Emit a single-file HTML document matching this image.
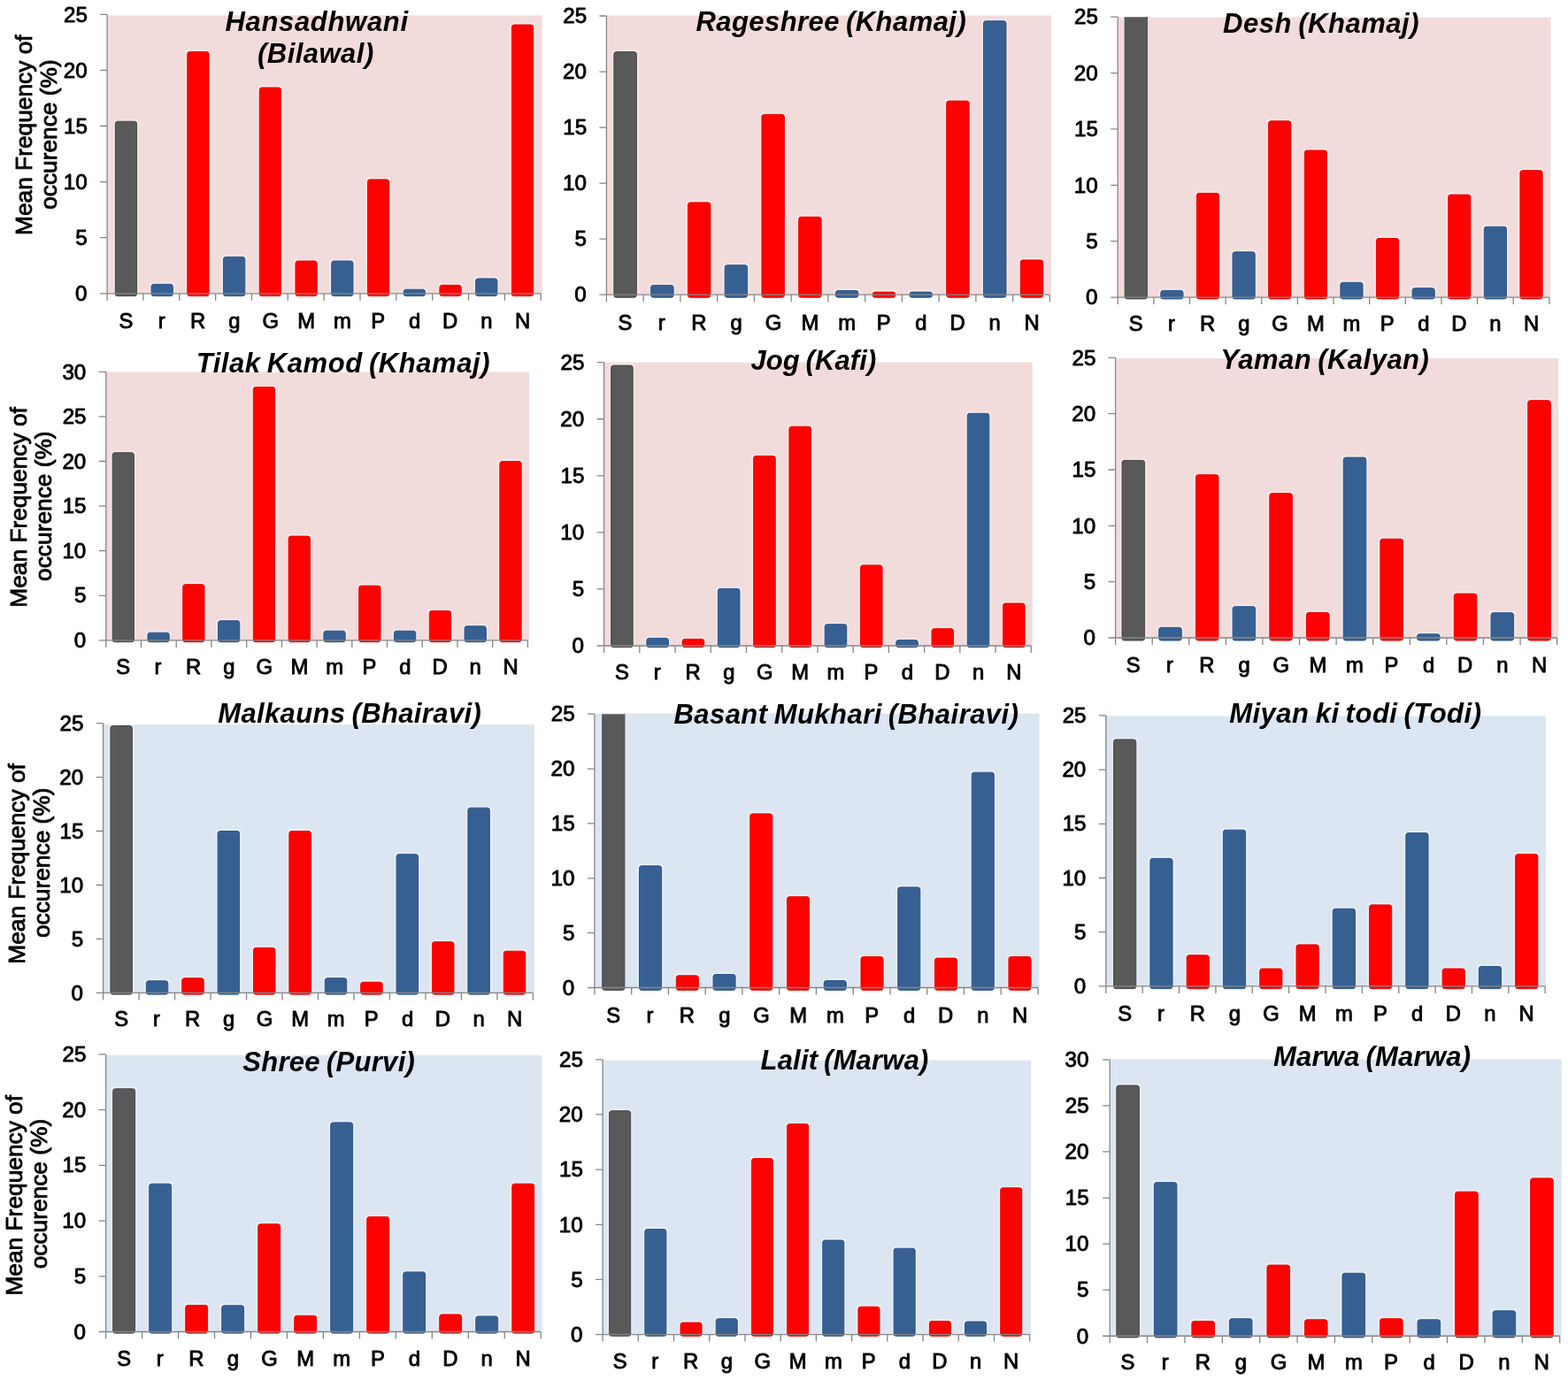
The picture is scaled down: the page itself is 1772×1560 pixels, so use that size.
<!DOCTYPE html>
<html><head><meta charset="utf-8"><style>
html,body{margin:0;padding:0;background:#fff;overflow:hidden;}
svg{display:block;}
text{font-family:"Liberation Sans",Arial,sans-serif;fill:#000;}
.t{font-size:24.2px;stroke:#000;stroke-width:0.9px;stroke-linejoin:round;}
.x{font-size:23.8px;stroke:#000;stroke-width:0.9px;stroke-linejoin:round;}
.ti{font-size:31.0px;font-weight:bold;font-style:italic;}
.yt{font-size:26.3px;stroke:#000;stroke-width:0.9px;stroke-linejoin:round;}
</style></head><body>
<svg width="1772" height="1560" viewBox="0 0 1772 1560">
<rect x="0" y="0" width="1772" height="1560" fill="#fff"/>
<defs>
<clipPath id="cp0"><rect x="101.1" y="16.3" width="530.1" height="345.5"/></clipPath>
<clipPath id="cp1"><rect x="665.4" y="18.0" width="541.0000000000001" height="345.2"/></clipPath>
<clipPath id="cp2"><rect x="1243.2" y="19.2" width="527.6499999999999" height="346.90000000000003"/></clipPath>
<clipPath id="cp3"><rect x="99.8" y="420.3" width="516.5999999999999" height="333.59999999999997"/></clipPath>
<clipPath id="cp4"><rect x="662.6" y="409.7" width="522.6999999999999" height="350.3"/></clipPath>
<clipPath id="cp5"><rect x="1240.6" y="404.3" width="539.0500000000002" height="346.7"/></clipPath>
<clipPath id="cp6"><rect x="96.6" y="817.6" width="525.8" height="334.80000000000007"/></clipPath>
<clipPath id="cp7"><rect x="651.9" y="807.2" width="541.1" height="339.29999999999995"/></clipPath>
<clipPath id="cp8"><rect x="1229.8" y="808.9" width="536.4000000000001" height="336.0000000000001"/></clipPath>
<clipPath id="cp9"><rect x="99.6" y="1191.9" width="531.6" height="343.5999999999999"/></clipPath>
<clipPath id="cp10"><rect x="661.1" y="1197.8" width="522.6" height="340.79999999999995"/></clipPath>
<clipPath id="cp11"><rect x="1234.2" y="1197.8" width="548.5" height="342.45000000000005"/></clipPath>
</defs>
<g><rect x="121.10" y="17.40" width="491.60" height="314.40" fill="#F2DCDB"/><rect x="128.30" y="135.20" width="28.30" height="199.90" rx="4" ry="4" fill="#fff" fill-opacity="0.45"/><rect x="130.30" y="137.20" width="24.30" height="197.40" rx="2.6" ry="2.6" fill="#595959" stroke="#474747" stroke-width="1"/><rect x="169.03" y="319.30" width="28.30" height="15.80" rx="4" ry="4" fill="#fff" fill-opacity="0.45"/><rect x="171.03" y="321.30" width="24.30" height="13.30" rx="2.6" ry="2.6" fill="#376092" stroke="#2A5590" stroke-width="1"/><rect x="209.76" y="56.40" width="28.30" height="278.70" rx="4" ry="4" fill="#fff" fill-opacity="0.45"/><rect x="211.76" y="58.40" width="24.30" height="276.20" rx="2.6" ry="2.6" fill="#FF0000" stroke="#F00000" stroke-width="1"/><rect x="250.50" y="288.40" width="28.30" height="46.70" rx="4" ry="4" fill="#fff" fill-opacity="0.45"/><rect x="252.50" y="290.40" width="24.30" height="44.20" rx="2.6" ry="2.6" fill="#376092" stroke="#2A5590" stroke-width="1"/><rect x="291.23" y="97.00" width="28.30" height="238.10" rx="4" ry="4" fill="#fff" fill-opacity="0.45"/><rect x="293.23" y="99.00" width="24.30" height="235.60" rx="2.6" ry="2.6" fill="#FF0000" stroke="#F00000" stroke-width="1"/><rect x="331.96" y="293.00" width="28.30" height="42.10" rx="4" ry="4" fill="#fff" fill-opacity="0.45"/><rect x="333.96" y="295.00" width="24.30" height="39.60" rx="2.6" ry="2.6" fill="#FF0000" stroke="#F00000" stroke-width="1"/><rect x="372.69" y="293.00" width="28.30" height="42.10" rx="4" ry="4" fill="#fff" fill-opacity="0.45"/><rect x="374.69" y="295.00" width="24.30" height="39.60" rx="2.6" ry="2.6" fill="#376092" stroke="#2A5590" stroke-width="1"/><rect x="413.42" y="200.90" width="28.30" height="134.20" rx="4" ry="4" fill="#fff" fill-opacity="0.45"/><rect x="415.42" y="202.90" width="24.30" height="131.70" rx="2.6" ry="2.6" fill="#FF0000" stroke="#F00000" stroke-width="1"/><rect x="454.15" y="325.20" width="28.30" height="9.90" rx="4" ry="4" fill="#fff" fill-opacity="0.45"/><rect x="456.15" y="327.20" width="24.30" height="7.40" rx="2.6" ry="2.6" fill="#376092" stroke="#2A5590" stroke-width="1"/><rect x="494.89" y="320.30" width="28.30" height="14.80" rx="4" ry="4" fill="#fff" fill-opacity="0.45"/><rect x="496.89" y="322.30" width="24.30" height="12.30" rx="2.6" ry="2.6" fill="#FF0000" stroke="#F00000" stroke-width="1"/><rect x="535.62" y="312.90" width="28.30" height="22.20" rx="4" ry="4" fill="#fff" fill-opacity="0.45"/><rect x="537.62" y="314.90" width="24.30" height="19.70" rx="2.6" ry="2.6" fill="#376092" stroke="#2A5590" stroke-width="1"/><rect x="576.35" y="26.00" width="28.30" height="309.10" rx="4" ry="4" fill="#fff" fill-opacity="0.45"/><rect x="578.35" y="28.00" width="24.30" height="306.60" rx="2.6" ry="2.6" fill="#FF0000" stroke="#F00000" stroke-width="1"/><path d="M121.10,16.30V339.80M113.10,331.80H611.20M113.10,331.80H121.10M113.10,268.70H121.10M113.10,205.60H121.10M113.10,142.50H121.10M113.10,79.40H121.10M113.10,16.30H121.10M121.10,331.80V339.80M161.94,331.80V339.80M202.78,331.80V339.80M243.62,331.80V339.80M284.47,331.80V339.80M325.31,331.80V339.80M366.15,331.80V339.80M406.99,331.80V339.80M447.83,331.80V339.80M488.68,331.80V339.80M529.52,331.80V339.80M570.36,331.80V339.80M611.20,331.80V339.80" stroke="#868686" stroke-width="1.3" fill="none"/><text x="84.95" y="340.05" class="t">0</text><text x="85.20" y="276.82" class="t">5</text><text x="71.70" y="213.85" class="t">10</text><text x="71.95" y="150.62" class="t">15</text><text x="71.70" y="87.65" class="t">20</text><text x="71.95" y="24.55" class="t">25</text><text x="134.45" y="371.10" class="x">S</text><text x="178.68" y="371.10" class="x">r</text><text x="214.91" y="371.10" class="x">R</text><text x="258.27" y="371.10" class="x">g</text><text x="296.38" y="371.10" class="x">G</text><text x="336.23" y="371.10" class="x">M</text><text x="376.97" y="371.10" class="x">m</text><text x="419.32" y="371.10" class="x">P</text><text x="461.93" y="371.10" class="x">d</text><text x="500.04" y="371.10" class="x">D</text><text x="543.14" y="371.10" class="x">n</text><text x="581.88" y="371.10" class="x">N</text><text x="254.40" y="34.90" class="ti" letter-spacing="0.685">Hansadhwani</text><text x="291.10" y="70.70" class="ti" letter-spacing="0.456">(Bilawal)</text><text transform="translate(35.55,152.70) rotate(-90)" text-anchor="middle" class="yt">Mean Frequency of</text><text transform="translate(63.75,152.10) rotate(-90)" text-anchor="middle" class="yt">occurence (%)</text></g>
<g><rect x="685.40" y="17.50" width="502.50" height="315.70" fill="#F2DCDB"/><rect x="691.85" y="56.60" width="29.50" height="280.10" rx="4" ry="4" fill="#fff" fill-opacity="0.45"/><rect x="693.85" y="58.60" width="25.50" height="277.60" rx="2.6" ry="2.6" fill="#595959" stroke="#474747" stroke-width="1"/><rect x="733.61" y="320.40" width="29.50" height="16.30" rx="4" ry="4" fill="#fff" fill-opacity="0.45"/><rect x="735.61" y="322.40" width="25.50" height="13.80" rx="2.6" ry="2.6" fill="#376092" stroke="#2A5590" stroke-width="1"/><rect x="775.38" y="226.90" width="29.50" height="109.80" rx="4" ry="4" fill="#fff" fill-opacity="0.45"/><rect x="777.38" y="228.90" width="25.50" height="107.30" rx="2.6" ry="2.6" fill="#FF0000" stroke="#F00000" stroke-width="1"/><rect x="817.14" y="297.70" width="29.50" height="39.00" rx="4" ry="4" fill="#fff" fill-opacity="0.45"/><rect x="819.14" y="299.70" width="25.50" height="36.50" rx="2.6" ry="2.6" fill="#376092" stroke="#2A5590" stroke-width="1"/><rect x="858.90" y="127.40" width="29.50" height="209.30" rx="4" ry="4" fill="#fff" fill-opacity="0.45"/><rect x="860.90" y="129.40" width="25.50" height="206.80" rx="2.6" ry="2.6" fill="#FF0000" stroke="#F00000" stroke-width="1"/><rect x="900.67" y="243.20" width="29.50" height="93.50" rx="4" ry="4" fill="#fff" fill-opacity="0.45"/><rect x="902.67" y="245.20" width="25.50" height="91.00" rx="2.6" ry="2.6" fill="#FF0000" stroke="#F00000" stroke-width="1"/><rect x="942.43" y="326.50" width="29.50" height="10.20" rx="4" ry="4" fill="#fff" fill-opacity="0.45"/><rect x="944.43" y="328.50" width="25.50" height="7.70" rx="2.6" ry="2.6" fill="#376092" stroke="#2A5590" stroke-width="1"/><rect x="984.20" y="328.10" width="29.50" height="8.60" rx="4" ry="4" fill="#fff" fill-opacity="0.45"/><rect x="986.20" y="330.10" width="25.50" height="6.10" rx="2.6" ry="2.6" fill="#FF0000" stroke="#F00000" stroke-width="1"/><rect x="1025.96" y="328.10" width="29.50" height="8.60" rx="4" ry="4" fill="#fff" fill-opacity="0.45"/><rect x="1027.96" y="330.10" width="25.50" height="6.10" rx="2.6" ry="2.6" fill="#376092" stroke="#2A5590" stroke-width="1"/><rect x="1067.72" y="112.10" width="29.50" height="224.60" rx="4" ry="4" fill="#fff" fill-opacity="0.45"/><rect x="1069.72" y="114.10" width="25.50" height="222.10" rx="2.6" ry="2.6" fill="#FF0000" stroke="#F00000" stroke-width="1"/><rect x="1109.49" y="21.70" width="29.50" height="315.00" rx="4" ry="4" fill="#fff" fill-opacity="0.45"/><rect x="1111.49" y="23.70" width="25.50" height="312.50" rx="2.6" ry="2.6" fill="#376092" stroke="#2A5590" stroke-width="1"/><rect x="1151.25" y="291.90" width="29.50" height="44.80" rx="4" ry="4" fill="#fff" fill-opacity="0.45"/><rect x="1153.25" y="293.90" width="25.50" height="42.30" rx="2.6" ry="2.6" fill="#FF0000" stroke="#F00000" stroke-width="1"/><path d="M685.40,18.00V341.20M677.40,333.20H1186.40M677.40,333.20H685.40M677.40,270.16H685.40M677.40,207.12H685.40M677.40,144.08H685.40M677.40,81.04H685.40M677.40,18.00H685.40M685.40,333.20V341.20M727.15,333.20V341.20M768.90,333.20V341.20M810.65,333.20V341.20M852.40,333.20V341.20M894.15,333.20V341.20M935.90,333.20V341.20M977.65,333.20V341.20M1019.40,333.20V341.20M1061.15,333.20V341.20M1102.90,333.20V341.20M1144.65,333.20V341.20M1186.40,333.20V341.20" stroke="#868686" stroke-width="1.3" fill="none"/><text x="649.25" y="341.45" class="t">0</text><text x="649.50" y="278.28" class="t">5</text><text x="636.00" y="215.37" class="t">10</text><text x="636.25" y="152.21" class="t">15</text><text x="636.00" y="89.29" class="t">20</text><text x="636.25" y="26.25" class="t">25</text><text x="698.60" y="372.50" class="x">S</text><text x="743.86" y="372.50" class="x">r</text><text x="781.13" y="372.50" class="x">R</text><text x="825.52" y="372.50" class="x">g</text><text x="864.65" y="372.50" class="x">G</text><text x="905.54" y="372.50" class="x">M</text><text x="947.31" y="372.50" class="x">m</text><text x="990.70" y="372.50" class="x">P</text><text x="1034.33" y="372.50" class="x">d</text><text x="1073.47" y="372.50" class="x">D</text><text x="1117.61" y="372.50" class="x">n</text><text x="1157.38" y="372.50" class="x">N</text><text x="786.40" y="34.90" class="ti" letter-spacing="0.447" word-spacing="-2.0">Rageshree (Khamaj)</text></g>
<g><rect x="1263.20" y="19.60" width="489.15" height="316.50" fill="#F2DCDB"/><rect x="1271.20" y="13.70" width="25.20" height="324.20" rx="2.6" ry="2.6" fill="#595959" stroke="#474747" stroke-width="1" clip-path="url(#cp2)"/><rect x="1309.81" y="326.40" width="29.20" height="12.00" rx="4" ry="4" fill="#fff" fill-opacity="0.45"/><rect x="1311.81" y="328.40" width="25.20" height="9.50" rx="2.6" ry="2.6" fill="#376092" stroke="#2A5590" stroke-width="1"/><rect x="1350.42" y="216.40" width="29.20" height="122.00" rx="4" ry="4" fill="#fff" fill-opacity="0.45"/><rect x="1352.42" y="218.40" width="25.20" height="119.50" rx="2.6" ry="2.6" fill="#FF0000" stroke="#F00000" stroke-width="1"/><rect x="1391.03" y="282.80" width="29.20" height="55.60" rx="4" ry="4" fill="#fff" fill-opacity="0.45"/><rect x="1393.03" y="284.80" width="25.20" height="53.10" rx="2.6" ry="2.6" fill="#376092" stroke="#2A5590" stroke-width="1"/><rect x="1431.64" y="134.80" width="29.20" height="203.60" rx="4" ry="4" fill="#fff" fill-opacity="0.45"/><rect x="1433.64" y="136.80" width="25.20" height="201.10" rx="2.6" ry="2.6" fill="#FF0000" stroke="#F00000" stroke-width="1"/><rect x="1472.25" y="168.00" width="29.20" height="170.40" rx="4" ry="4" fill="#fff" fill-opacity="0.45"/><rect x="1474.25" y="170.00" width="25.20" height="167.90" rx="2.6" ry="2.6" fill="#FF0000" stroke="#F00000" stroke-width="1"/><rect x="1512.85" y="317.30" width="29.20" height="21.10" rx="4" ry="4" fill="#fff" fill-opacity="0.45"/><rect x="1514.85" y="319.30" width="25.20" height="18.60" rx="2.6" ry="2.6" fill="#376092" stroke="#2A5590" stroke-width="1"/><rect x="1553.46" y="267.50" width="29.20" height="70.90" rx="4" ry="4" fill="#fff" fill-opacity="0.45"/><rect x="1555.46" y="269.50" width="25.20" height="68.40" rx="2.6" ry="2.6" fill="#FF0000" stroke="#F00000" stroke-width="1"/><rect x="1594.07" y="323.70" width="29.20" height="14.70" rx="4" ry="4" fill="#fff" fill-opacity="0.45"/><rect x="1596.07" y="325.70" width="25.20" height="12.20" rx="2.6" ry="2.6" fill="#376092" stroke="#2A5590" stroke-width="1"/><rect x="1634.68" y="218.10" width="29.20" height="120.30" rx="4" ry="4" fill="#fff" fill-opacity="0.45"/><rect x="1636.68" y="220.10" width="25.20" height="117.80" rx="2.6" ry="2.6" fill="#FF0000" stroke="#F00000" stroke-width="1"/><rect x="1675.29" y="254.30" width="29.20" height="84.10" rx="4" ry="4" fill="#fff" fill-opacity="0.45"/><rect x="1677.29" y="256.30" width="25.20" height="81.60" rx="2.6" ry="2.6" fill="#376092" stroke="#2A5590" stroke-width="1"/><rect x="1715.90" y="190.70" width="29.20" height="147.70" rx="4" ry="4" fill="#fff" fill-opacity="0.45"/><rect x="1717.90" y="192.70" width="25.20" height="145.20" rx="2.6" ry="2.6" fill="#FF0000" stroke="#F00000" stroke-width="1"/><path d="M1263.20,19.20V344.10M1255.20,336.10H1750.85M1255.20,336.10H1263.20M1255.20,272.72H1263.20M1255.20,209.34H1263.20M1255.20,145.96H1263.20M1255.20,82.58H1263.20M1255.20,19.20H1263.20M1263.20,336.10V344.10M1303.84,336.10V344.10M1344.47,336.10V344.10M1385.11,336.10V344.10M1425.75,336.10V344.10M1466.39,336.10V344.10M1507.03,336.10V344.10M1547.66,336.10V344.10M1588.30,336.10V344.10M1628.94,336.10V344.10M1669.57,336.10V344.10M1710.21,336.10V344.10M1750.85,336.10V344.10" stroke="#868686" stroke-width="1.3" fill="none"/><text x="1227.05" y="344.35" class="t">0</text><text x="1227.30" y="280.85" class="t">5</text><text x="1213.80" y="217.59" class="t">10</text><text x="1214.05" y="154.09" class="t">15</text><text x="1213.80" y="90.83" class="t">20</text><text x="1214.05" y="27.45" class="t">25</text><text x="1275.80" y="374.10" class="x">S</text><text x="1319.91" y="374.10" class="x">r</text><text x="1356.02" y="374.10" class="x">R</text><text x="1399.25" y="374.10" class="x">g</text><text x="1437.24" y="374.10" class="x">G</text><text x="1476.97" y="374.10" class="x">M</text><text x="1517.58" y="374.10" class="x">m</text><text x="1559.81" y="374.10" class="x">P</text><text x="1602.30" y="374.10" class="x">d</text><text x="1640.28" y="374.10" class="x">D</text><text x="1683.27" y="374.10" class="x">n</text><text x="1721.88" y="374.10" class="x">N</text><text x="1382.10" y="36.60" class="ti" letter-spacing="0.529" word-spacing="-2.0">Desh (Khamaj)</text></g>
<g><rect x="119.80" y="420.50" width="478.10" height="303.40" fill="#F2DCDB"/><rect x="125.15" y="509.70" width="28.30" height="216.50" rx="4" ry="4" fill="#fff" fill-opacity="0.45"/><rect x="127.15" y="511.70" width="24.30" height="214.00" rx="2.6" ry="2.6" fill="#595959" stroke="#474747" stroke-width="1"/><rect x="164.94" y="713.20" width="28.30" height="13.00" rx="4" ry="4" fill="#fff" fill-opacity="0.45"/><rect x="166.94" y="715.20" width="24.30" height="10.50" rx="2.6" ry="2.6" fill="#376092" stroke="#2A5590" stroke-width="1"/><rect x="204.73" y="658.70" width="28.30" height="67.50" rx="4" ry="4" fill="#fff" fill-opacity="0.45"/><rect x="206.73" y="660.70" width="24.30" height="65.00" rx="2.6" ry="2.6" fill="#FF0000" stroke="#F00000" stroke-width="1"/><rect x="244.52" y="699.70" width="28.30" height="26.50" rx="4" ry="4" fill="#fff" fill-opacity="0.45"/><rect x="246.52" y="701.70" width="24.30" height="24.00" rx="2.6" ry="2.6" fill="#376092" stroke="#2A5590" stroke-width="1"/><rect x="284.31" y="435.50" width="28.30" height="290.70" rx="4" ry="4" fill="#fff" fill-opacity="0.45"/><rect x="286.31" y="437.50" width="24.30" height="288.20" rx="2.6" ry="2.6" fill="#FF0000" stroke="#F00000" stroke-width="1"/><rect x="324.10" y="604.10" width="28.30" height="122.10" rx="4" ry="4" fill="#fff" fill-opacity="0.45"/><rect x="326.10" y="606.10" width="24.30" height="119.60" rx="2.6" ry="2.6" fill="#FF0000" stroke="#F00000" stroke-width="1"/><rect x="363.90" y="711.20" width="28.30" height="15.00" rx="4" ry="4" fill="#fff" fill-opacity="0.45"/><rect x="365.90" y="713.20" width="24.30" height="12.50" rx="2.6" ry="2.6" fill="#376092" stroke="#2A5590" stroke-width="1"/><rect x="403.69" y="660.10" width="28.30" height="66.10" rx="4" ry="4" fill="#fff" fill-opacity="0.45"/><rect x="405.69" y="662.10" width="24.30" height="63.60" rx="2.6" ry="2.6" fill="#FF0000" stroke="#F00000" stroke-width="1"/><rect x="443.48" y="711.20" width="28.30" height="15.00" rx="4" ry="4" fill="#fff" fill-opacity="0.45"/><rect x="445.48" y="713.20" width="24.30" height="12.50" rx="2.6" ry="2.6" fill="#376092" stroke="#2A5590" stroke-width="1"/><rect x="483.27" y="688.50" width="28.30" height="37.70" rx="4" ry="4" fill="#fff" fill-opacity="0.45"/><rect x="485.27" y="690.50" width="24.30" height="35.20" rx="2.6" ry="2.6" fill="#FF0000" stroke="#F00000" stroke-width="1"/><rect x="523.06" y="705.80" width="28.30" height="20.40" rx="4" ry="4" fill="#fff" fill-opacity="0.45"/><rect x="525.06" y="707.80" width="24.30" height="17.90" rx="2.6" ry="2.6" fill="#376092" stroke="#2A5590" stroke-width="1"/><rect x="562.85" y="519.50" width="28.30" height="206.70" rx="4" ry="4" fill="#fff" fill-opacity="0.45"/><rect x="564.85" y="521.50" width="24.30" height="204.20" rx="2.6" ry="2.6" fill="#FF0000" stroke="#F00000" stroke-width="1"/><path d="M119.80,420.30V731.90M111.80,723.90H596.40M111.80,723.90H119.80M111.80,673.30H119.80M111.80,622.70H119.80M111.80,572.10H119.80M111.80,521.50H119.80M111.80,470.90H119.80M111.80,420.30H119.80M119.80,723.90V731.90M159.52,723.90V731.90M199.23,723.90V731.90M238.95,723.90V731.90M278.67,723.90V731.90M318.38,723.90V731.90M358.10,723.90V731.90M397.82,723.90V731.90M437.53,723.90V731.90M477.25,723.90V731.90M516.97,723.90V731.90M556.68,723.90V731.90M596.40,723.90V731.90" stroke="#868686" stroke-width="1.3" fill="none"/><text x="83.65" y="732.15" class="t">0</text><text x="83.90" y="681.42" class="t">5</text><text x="70.40" y="630.95" class="t">10</text><text x="70.65" y="580.23" class="t">15</text><text x="70.40" y="529.75" class="t">20</text><text x="70.65" y="479.15" class="t">25</text><text x="70.40" y="428.55" class="t">30</text><text x="131.30" y="761.80" class="x">S</text><text x="174.59" y="761.80" class="x">r</text><text x="209.88" y="761.80" class="x">R</text><text x="252.30" y="761.80" class="x">g</text><text x="289.46" y="761.80" class="x">G</text><text x="328.38" y="761.80" class="x">M</text><text x="368.17" y="761.80" class="x">m</text><text x="409.59" y="761.80" class="x">P</text><text x="451.25" y="761.80" class="x">d</text><text x="488.42" y="761.80" class="x">D</text><text x="530.58" y="761.80" class="x">n</text><text x="568.38" y="761.80" class="x">N</text><text x="221.75" y="421.00" class="ti" letter-spacing="0.568" word-spacing="-2.0">Tilak Kamod (Khamaj)</text><text transform="translate(29.55,573.40) rotate(-90)" text-anchor="middle" class="yt">Mean Frequency of</text><text transform="translate(57.95,572.15) rotate(-90)" text-anchor="middle" class="yt">occurence (%)</text></g>
<g><rect x="682.60" y="409.60" width="484.20" height="320.40" fill="#F2DCDB"/><rect x="688.60" y="411.10" width="28.60" height="321.10" rx="4" ry="4" fill="#fff" fill-opacity="0.45"/><rect x="690.60" y="413.10" width="24.60" height="318.60" rx="2.6" ry="2.6" fill="#595959" stroke="#474747" stroke-width="1"/><rect x="728.86" y="719.40" width="28.60" height="12.80" rx="4" ry="4" fill="#fff" fill-opacity="0.45"/><rect x="730.86" y="721.40" width="24.60" height="10.30" rx="2.6" ry="2.6" fill="#376092" stroke="#2A5590" stroke-width="1"/><rect x="769.13" y="720.40" width="28.60" height="11.80" rx="4" ry="4" fill="#fff" fill-opacity="0.45"/><rect x="771.13" y="722.40" width="24.60" height="9.30" rx="2.6" ry="2.6" fill="#FF0000" stroke="#F00000" stroke-width="1"/><rect x="809.39" y="663.40" width="28.60" height="68.80" rx="4" ry="4" fill="#fff" fill-opacity="0.45"/><rect x="811.39" y="665.40" width="24.60" height="66.30" rx="2.6" ry="2.6" fill="#376092" stroke="#2A5590" stroke-width="1"/><rect x="849.65" y="513.40" width="28.60" height="218.80" rx="4" ry="4" fill="#fff" fill-opacity="0.45"/><rect x="851.65" y="515.40" width="24.60" height="216.30" rx="2.6" ry="2.6" fill="#FF0000" stroke="#F00000" stroke-width="1"/><rect x="889.92" y="480.20" width="28.60" height="252.00" rx="4" ry="4" fill="#fff" fill-opacity="0.45"/><rect x="891.92" y="482.20" width="24.60" height="249.50" rx="2.6" ry="2.6" fill="#FF0000" stroke="#F00000" stroke-width="1"/><rect x="930.18" y="703.70" width="28.60" height="28.50" rx="4" ry="4" fill="#fff" fill-opacity="0.45"/><rect x="932.18" y="705.70" width="24.60" height="26.00" rx="2.6" ry="2.6" fill="#376092" stroke="#2A5590" stroke-width="1"/><rect x="970.45" y="636.90" width="28.60" height="95.30" rx="4" ry="4" fill="#fff" fill-opacity="0.45"/><rect x="972.45" y="638.90" width="24.60" height="92.80" rx="2.6" ry="2.6" fill="#FF0000" stroke="#F00000" stroke-width="1"/><rect x="1010.71" y="721.60" width="28.60" height="10.60" rx="4" ry="4" fill="#fff" fill-opacity="0.45"/><rect x="1012.71" y="723.60" width="24.60" height="8.10" rx="2.6" ry="2.6" fill="#376092" stroke="#2A5590" stroke-width="1"/><rect x="1050.97" y="708.70" width="28.60" height="23.50" rx="4" ry="4" fill="#fff" fill-opacity="0.45"/><rect x="1052.97" y="710.70" width="24.60" height="21.00" rx="2.6" ry="2.6" fill="#FF0000" stroke="#F00000" stroke-width="1"/><rect x="1091.24" y="465.30" width="28.60" height="266.90" rx="4" ry="4" fill="#fff" fill-opacity="0.45"/><rect x="1093.24" y="467.30" width="24.60" height="264.40" rx="2.6" ry="2.6" fill="#376092" stroke="#2A5590" stroke-width="1"/><rect x="1131.50" y="680.00" width="28.60" height="52.20" rx="4" ry="4" fill="#fff" fill-opacity="0.45"/><rect x="1133.50" y="682.00" width="24.60" height="49.70" rx="2.6" ry="2.6" fill="#FF0000" stroke="#F00000" stroke-width="1"/><path d="M682.60,409.70V738.00M674.60,730.00H1165.30M674.60,730.00H682.60M674.60,665.94H682.60M674.60,601.88H682.60M674.60,537.82H682.60M674.60,473.76H682.60M674.60,409.70H682.60M682.60,730.00V738.00M722.83,730.00V738.00M763.05,730.00V738.00M803.27,730.00V738.00M843.50,730.00V738.00M883.73,730.00V738.00M923.95,730.00V738.00M964.17,730.00V738.00M1004.40,730.00V738.00M1044.62,730.00V738.00M1084.85,730.00V738.00M1125.07,730.00V738.00M1165.30,730.00V738.00" stroke="#868686" stroke-width="1.3" fill="none"/><text x="646.45" y="738.25" class="t">0</text><text x="646.70" y="674.07" class="t">5</text><text x="633.20" y="610.13" class="t">10</text><text x="633.45" y="545.94" class="t">15</text><text x="633.20" y="482.01" class="t">20</text><text x="633.45" y="417.95" class="t">25</text><text x="694.90" y="767.80" class="x">S</text><text x="738.66" y="767.80" class="x">r</text><text x="774.43" y="767.80" class="x">R</text><text x="817.32" y="767.80" class="x">g</text><text x="854.95" y="767.80" class="x">G</text><text x="894.34" y="767.80" class="x">M</text><text x="934.61" y="767.80" class="x">m</text><text x="976.50" y="767.80" class="x">P</text><text x="1018.63" y="767.80" class="x">d</text><text x="1056.27" y="767.80" class="x">D</text><text x="1098.91" y="767.80" class="x">n</text><text x="1137.17" y="767.80" class="x">N</text><text x="848.40" y="418.00" class="ti" letter-spacing="0.111" word-spacing="-2.0">Jog (Kafi)</text></g>
<g><rect x="1260.60" y="405.10" width="500.55" height="315.90" fill="#F2DCDB"/><rect x="1266.00" y="518.40" width="29.60" height="206.10" rx="4" ry="4" fill="#fff" fill-opacity="0.45"/><rect x="1268.00" y="520.40" width="25.60" height="203.60" rx="2.6" ry="2.6" fill="#595959" stroke="#474747" stroke-width="1"/><rect x="1307.70" y="707.30" width="29.60" height="17.20" rx="4" ry="4" fill="#fff" fill-opacity="0.45"/><rect x="1309.70" y="709.30" width="25.60" height="14.70" rx="2.6" ry="2.6" fill="#376092" stroke="#2A5590" stroke-width="1"/><rect x="1349.40" y="534.70" width="29.60" height="189.80" rx="4" ry="4" fill="#fff" fill-opacity="0.45"/><rect x="1351.40" y="536.70" width="25.60" height="187.30" rx="2.6" ry="2.6" fill="#FF0000" stroke="#F00000" stroke-width="1"/><rect x="1391.10" y="683.70" width="29.60" height="40.80" rx="4" ry="4" fill="#fff" fill-opacity="0.45"/><rect x="1393.10" y="685.70" width="25.60" height="38.30" rx="2.6" ry="2.6" fill="#376092" stroke="#2A5590" stroke-width="1"/><rect x="1432.80" y="555.70" width="29.60" height="168.80" rx="4" ry="4" fill="#fff" fill-opacity="0.45"/><rect x="1434.80" y="557.70" width="25.60" height="166.30" rx="2.6" ry="2.6" fill="#FF0000" stroke="#F00000" stroke-width="1"/><rect x="1474.50" y="690.50" width="29.60" height="34.00" rx="4" ry="4" fill="#fff" fill-opacity="0.45"/><rect x="1476.50" y="692.50" width="25.60" height="31.50" rx="2.6" ry="2.6" fill="#FF0000" stroke="#F00000" stroke-width="1"/><rect x="1516.20" y="515.10" width="29.60" height="209.40" rx="4" ry="4" fill="#fff" fill-opacity="0.45"/><rect x="1518.20" y="517.10" width="25.60" height="206.90" rx="2.6" ry="2.6" fill="#376092" stroke="#2A5590" stroke-width="1"/><rect x="1557.90" y="607.20" width="29.60" height="117.30" rx="4" ry="4" fill="#fff" fill-opacity="0.45"/><rect x="1559.90" y="609.20" width="25.60" height="114.80" rx="2.6" ry="2.6" fill="#FF0000" stroke="#F00000" stroke-width="1"/><rect x="1599.60" y="714.80" width="29.60" height="9.70" rx="4" ry="4" fill="#fff" fill-opacity="0.45"/><rect x="1601.60" y="716.80" width="25.60" height="7.20" rx="2.6" ry="2.6" fill="#376092" stroke="#2A5590" stroke-width="1"/><rect x="1641.30" y="669.10" width="29.60" height="55.40" rx="4" ry="4" fill="#fff" fill-opacity="0.45"/><rect x="1643.30" y="671.10" width="25.60" height="52.90" rx="2.6" ry="2.6" fill="#FF0000" stroke="#F00000" stroke-width="1"/><rect x="1683.00" y="690.70" width="29.60" height="33.80" rx="4" ry="4" fill="#fff" fill-opacity="0.45"/><rect x="1685.00" y="692.70" width="25.60" height="31.30" rx="2.6" ry="2.6" fill="#376092" stroke="#2A5590" stroke-width="1"/><rect x="1724.70" y="450.70" width="29.60" height="273.80" rx="4" ry="4" fill="#fff" fill-opacity="0.45"/><rect x="1726.70" y="452.70" width="25.60" height="271.30" rx="2.6" ry="2.6" fill="#FF0000" stroke="#F00000" stroke-width="1"/><path d="M1260.60,404.30V729.00M1252.60,721.00H1759.65M1252.60,721.00H1260.60M1252.60,657.66H1260.60M1252.60,594.32H1260.60M1252.60,530.98H1260.60M1252.60,467.64H1260.60M1252.60,404.30H1260.60M1260.60,721.00V729.00M1302.19,721.00V729.00M1343.77,721.00V729.00M1385.36,721.00V729.00M1426.95,721.00V729.00M1468.54,721.00V729.00M1510.12,721.00V729.00M1551.71,721.00V729.00M1593.30,721.00V729.00M1634.89,721.00V729.00M1676.47,721.00V729.00M1718.06,721.00V729.00M1759.65,721.00V729.00" stroke="#868686" stroke-width="1.3" fill="none"/><text x="1224.45" y="729.25" class="t">0</text><text x="1224.70" y="665.78" class="t">5</text><text x="1211.20" y="602.57" class="t">10</text><text x="1211.45" y="539.11" class="t">15</text><text x="1211.20" y="475.89" class="t">20</text><text x="1211.45" y="412.55" class="t">25</text><text x="1272.80" y="760.20" class="x">S</text><text x="1318.00" y="760.20" class="x">r</text><text x="1355.20" y="760.20" class="x">R</text><text x="1399.52" y="760.20" class="x">g</text><text x="1438.60" y="760.20" class="x">G</text><text x="1479.42" y="760.20" class="x">M</text><text x="1521.12" y="760.20" class="x">m</text><text x="1564.45" y="760.20" class="x">P</text><text x="1608.03" y="760.20" class="x">d</text><text x="1647.10" y="760.20" class="x">D</text><text x="1691.17" y="760.20" class="x">n</text><text x="1730.88" y="760.20" class="x">N</text><text x="1379.25" y="416.70" class="ti" letter-spacing="0.473" word-spacing="-2.0">Yaman (Kalyan)</text></g>
<g><rect x="116.60" y="818.90" width="487.30" height="303.50" fill="#DCE6F2"/><rect x="122.90" y="818.50" width="28.50" height="306.10" rx="4" ry="4" fill="#fff" fill-opacity="0.45"/><rect x="124.90" y="820.50" width="24.50" height="303.60" rx="2.6" ry="2.6" fill="#595959" stroke="#474747" stroke-width="1"/><rect x="163.30" y="1106.80" width="28.50" height="17.80" rx="4" ry="4" fill="#fff" fill-opacity="0.45"/><rect x="165.30" y="1108.80" width="24.50" height="15.30" rx="2.6" ry="2.6" fill="#376092" stroke="#2A5590" stroke-width="1"/><rect x="203.69" y="1103.70" width="28.50" height="20.90" rx="4" ry="4" fill="#fff" fill-opacity="0.45"/><rect x="205.69" y="1105.70" width="24.50" height="18.40" rx="2.6" ry="2.6" fill="#FF0000" stroke="#F00000" stroke-width="1"/><rect x="244.09" y="937.50" width="28.50" height="187.10" rx="4" ry="4" fill="#fff" fill-opacity="0.45"/><rect x="246.09" y="939.50" width="24.50" height="184.60" rx="2.6" ry="2.6" fill="#376092" stroke="#2A5590" stroke-width="1"/><rect x="284.48" y="1069.40" width="28.50" height="55.20" rx="4" ry="4" fill="#fff" fill-opacity="0.45"/><rect x="286.48" y="1071.40" width="24.50" height="52.70" rx="2.6" ry="2.6" fill="#FF0000" stroke="#F00000" stroke-width="1"/><rect x="324.88" y="937.50" width="28.50" height="187.10" rx="4" ry="4" fill="#fff" fill-opacity="0.45"/><rect x="326.88" y="939.50" width="24.50" height="184.60" rx="2.6" ry="2.6" fill="#FF0000" stroke="#F00000" stroke-width="1"/><rect x="365.27" y="1103.70" width="28.50" height="20.90" rx="4" ry="4" fill="#fff" fill-opacity="0.45"/><rect x="367.27" y="1105.70" width="24.50" height="18.40" rx="2.6" ry="2.6" fill="#376092" stroke="#2A5590" stroke-width="1"/><rect x="405.67" y="1108.20" width="28.50" height="16.40" rx="4" ry="4" fill="#fff" fill-opacity="0.45"/><rect x="407.67" y="1110.20" width="24.50" height="13.90" rx="2.6" ry="2.6" fill="#FF0000" stroke="#F00000" stroke-width="1"/><rect x="446.06" y="963.70" width="28.50" height="160.90" rx="4" ry="4" fill="#fff" fill-opacity="0.45"/><rect x="448.06" y="965.70" width="24.50" height="158.40" rx="2.6" ry="2.6" fill="#376092" stroke="#2A5590" stroke-width="1"/><rect x="486.46" y="1062.70" width="28.50" height="61.90" rx="4" ry="4" fill="#fff" fill-opacity="0.45"/><rect x="488.46" y="1064.70" width="24.50" height="59.40" rx="2.6" ry="2.6" fill="#FF0000" stroke="#F00000" stroke-width="1"/><rect x="526.85" y="911.20" width="28.50" height="213.40" rx="4" ry="4" fill="#fff" fill-opacity="0.45"/><rect x="528.85" y="913.20" width="24.50" height="210.90" rx="2.6" ry="2.6" fill="#376092" stroke="#2A5590" stroke-width="1"/><rect x="567.25" y="1073.20" width="28.50" height="51.40" rx="4" ry="4" fill="#fff" fill-opacity="0.45"/><rect x="569.25" y="1075.20" width="24.50" height="48.90" rx="2.6" ry="2.6" fill="#FF0000" stroke="#F00000" stroke-width="1"/><path d="M116.60,817.60V1130.40M108.60,1122.40H602.40M108.60,1122.40H116.60M108.60,1061.44H116.60M108.60,1000.48H116.60M108.60,939.52H116.60M108.60,878.56H116.60M108.60,817.60H116.60M116.60,1122.40V1130.40M157.08,1122.40V1130.40M197.57,1122.40V1130.40M238.05,1122.40V1130.40M278.53,1122.40V1130.40M319.02,1122.40V1130.40M359.50,1122.40V1130.40M399.98,1122.40V1130.40M440.47,1122.40V1130.40M480.95,1122.40V1130.40M521.43,1122.40V1130.40M561.92,1122.40V1130.40M602.40,1122.40V1130.40" stroke="#868686" stroke-width="1.3" fill="none"/><text x="80.45" y="1130.65" class="t">0</text><text x="80.70" y="1069.57" class="t">5</text><text x="67.20" y="1008.73" class="t">10</text><text x="67.45" y="947.64" class="t">15</text><text x="67.20" y="886.81" class="t">20</text><text x="67.45" y="825.85" class="t">25</text><text x="129.15" y="1160.20" class="x">S</text><text x="173.05" y="1160.20" class="x">r</text><text x="208.94" y="1160.20" class="x">R</text><text x="251.96" y="1160.20" class="x">g</text><text x="289.73" y="1160.20" class="x">G</text><text x="329.25" y="1160.20" class="x">M</text><text x="369.65" y="1160.20" class="x">m</text><text x="411.67" y="1160.20" class="x">P</text><text x="453.94" y="1160.20" class="x">d</text><text x="491.71" y="1160.20" class="x">D</text><text x="534.48" y="1160.20" class="x">n</text><text x="572.88" y="1160.20" class="x">N</text><text x="246.20" y="817.00" class="ti" letter-spacing="0.378" word-spacing="-2.0">Malkauns (Bhairavi)</text><text transform="translate(28.05,976.45) rotate(-90)" text-anchor="middle" class="yt">Mean Frequency of</text><text transform="translate(56.45,975.30) rotate(-90)" text-anchor="middle" class="yt">occurence (%)</text></g>
<g><rect x="671.90" y="806.60" width="502.60" height="309.90" fill="#DCE6F2"/><rect x="680.75" y="801.70" width="25.10" height="317.60" rx="2.6" ry="2.6" fill="#595959" stroke="#474747" stroke-width="1" clip-path="url(#cp7)"/><rect x="720.50" y="976.80" width="29.10" height="143.00" rx="4" ry="4" fill="#fff" fill-opacity="0.45"/><rect x="722.50" y="978.80" width="25.10" height="140.50" rx="2.6" ry="2.6" fill="#376092" stroke="#2A5590" stroke-width="1"/><rect x="762.24" y="1100.80" width="29.10" height="19.00" rx="4" ry="4" fill="#fff" fill-opacity="0.45"/><rect x="764.24" y="1102.80" width="25.10" height="16.50" rx="2.6" ry="2.6" fill="#FF0000" stroke="#F00000" stroke-width="1"/><rect x="803.99" y="1099.50" width="29.10" height="20.30" rx="4" ry="4" fill="#fff" fill-opacity="0.45"/><rect x="805.99" y="1101.50" width="25.10" height="17.80" rx="2.6" ry="2.6" fill="#376092" stroke="#2A5590" stroke-width="1"/><rect x="845.73" y="917.90" width="29.10" height="201.90" rx="4" ry="4" fill="#fff" fill-opacity="0.45"/><rect x="847.73" y="919.90" width="25.10" height="199.40" rx="2.6" ry="2.6" fill="#FF0000" stroke="#F00000" stroke-width="1"/><rect x="887.48" y="1011.70" width="29.10" height="108.10" rx="4" ry="4" fill="#fff" fill-opacity="0.45"/><rect x="889.48" y="1013.70" width="25.10" height="105.60" rx="2.6" ry="2.6" fill="#FF0000" stroke="#F00000" stroke-width="1"/><rect x="929.22" y="1106.50" width="29.10" height="13.30" rx="4" ry="4" fill="#fff" fill-opacity="0.45"/><rect x="931.22" y="1108.50" width="25.10" height="10.80" rx="2.6" ry="2.6" fill="#376092" stroke="#2A5590" stroke-width="1"/><rect x="970.97" y="1079.50" width="29.10" height="40.30" rx="4" ry="4" fill="#fff" fill-opacity="0.45"/><rect x="972.97" y="1081.50" width="25.10" height="37.80" rx="2.6" ry="2.6" fill="#FF0000" stroke="#F00000" stroke-width="1"/><rect x="1012.71" y="1000.90" width="29.10" height="118.90" rx="4" ry="4" fill="#fff" fill-opacity="0.45"/><rect x="1014.71" y="1002.90" width="25.10" height="116.40" rx="2.6" ry="2.6" fill="#376092" stroke="#2A5590" stroke-width="1"/><rect x="1054.46" y="1081.10" width="29.10" height="38.70" rx="4" ry="4" fill="#fff" fill-opacity="0.45"/><rect x="1056.46" y="1083.10" width="25.10" height="36.20" rx="2.6" ry="2.6" fill="#FF0000" stroke="#F00000" stroke-width="1"/><rect x="1096.20" y="871.20" width="29.10" height="248.60" rx="4" ry="4" fill="#fff" fill-opacity="0.45"/><rect x="1098.20" y="873.20" width="25.10" height="246.10" rx="2.6" ry="2.6" fill="#376092" stroke="#2A5590" stroke-width="1"/><rect x="1137.95" y="1079.50" width="29.10" height="40.30" rx="4" ry="4" fill="#fff" fill-opacity="0.45"/><rect x="1139.95" y="1081.50" width="25.10" height="37.80" rx="2.6" ry="2.6" fill="#FF0000" stroke="#F00000" stroke-width="1"/><path d="M671.90,807.20V1124.50M663.90,1116.50H1173.00M663.90,1116.50H671.90M663.90,1054.64H671.90M663.90,992.78H671.90M663.90,930.92H671.90M663.90,869.06H671.90M663.90,807.20H671.90M671.90,1116.50V1124.50M713.66,1116.50V1124.50M755.42,1116.50V1124.50M797.17,1116.50V1124.50M838.93,1116.50V1124.50M880.69,1116.50V1124.50M922.45,1116.50V1124.50M964.21,1116.50V1124.50M1005.97,1116.50V1124.50M1047.72,1116.50V1124.50M1089.48,1116.50V1124.50M1131.24,1116.50V1124.50M1173.00,1116.50V1124.50" stroke="#868686" stroke-width="1.3" fill="none"/><text x="635.75" y="1124.75" class="t">0</text><text x="636.00" y="1062.77" class="t">5</text><text x="622.50" y="1001.03" class="t">10</text><text x="622.75" y="939.05" class="t">15</text><text x="622.50" y="877.31" class="t">20</text><text x="622.75" y="815.45" class="t">25</text><text x="685.30" y="1155.50" class="x">S</text><text x="730.55" y="1155.50" class="x">r</text><text x="767.79" y="1155.50" class="x">R</text><text x="812.16" y="1155.50" class="x">g</text><text x="851.28" y="1155.50" class="x">G</text><text x="892.15" y="1155.50" class="x">M</text><text x="933.90" y="1155.50" class="x">m</text><text x="977.27" y="1155.50" class="x">P</text><text x="1020.89" y="1155.50" class="x">d</text><text x="1060.01" y="1155.50" class="x">D</text><text x="1104.13" y="1155.50" class="x">n</text><text x="1143.88" y="1155.50" class="x">N</text><text x="761.40" y="818.30" class="ti" letter-spacing="0.465" word-spacing="-2.0">Basant Mukhari (Bhairavi)</text></g>
<g><rect x="1249.80" y="809.30" width="497.10" height="305.60" fill="#DCE6F2"/><rect x="1256.60" y="833.90" width="29.20" height="284.20" rx="4" ry="4" fill="#fff" fill-opacity="0.45"/><rect x="1258.60" y="835.90" width="25.20" height="281.70" rx="2.6" ry="2.6" fill="#595959" stroke="#474747" stroke-width="1"/><rect x="1297.88" y="968.40" width="29.20" height="149.70" rx="4" ry="4" fill="#fff" fill-opacity="0.45"/><rect x="1299.88" y="970.40" width="25.20" height="147.20" rx="2.6" ry="2.6" fill="#376092" stroke="#2A5590" stroke-width="1"/><rect x="1339.15" y="1077.80" width="29.20" height="40.30" rx="4" ry="4" fill="#fff" fill-opacity="0.45"/><rect x="1341.15" y="1079.80" width="25.20" height="37.80" rx="2.6" ry="2.6" fill="#FF0000" stroke="#F00000" stroke-width="1"/><rect x="1380.43" y="936.20" width="29.20" height="181.90" rx="4" ry="4" fill="#fff" fill-opacity="0.45"/><rect x="1382.43" y="938.20" width="25.20" height="179.40" rx="2.6" ry="2.6" fill="#376092" stroke="#2A5590" stroke-width="1"/><rect x="1421.71" y="1093.00" width="29.20" height="25.10" rx="4" ry="4" fill="#fff" fill-opacity="0.45"/><rect x="1423.71" y="1095.00" width="25.20" height="22.60" rx="2.6" ry="2.6" fill="#FF0000" stroke="#F00000" stroke-width="1"/><rect x="1462.99" y="1065.90" width="29.20" height="52.20" rx="4" ry="4" fill="#fff" fill-opacity="0.45"/><rect x="1464.99" y="1067.90" width="25.20" height="49.70" rx="2.6" ry="2.6" fill="#FF0000" stroke="#F00000" stroke-width="1"/><rect x="1504.26" y="1025.30" width="29.20" height="92.80" rx="4" ry="4" fill="#fff" fill-opacity="0.45"/><rect x="1506.26" y="1027.30" width="25.20" height="90.30" rx="2.6" ry="2.6" fill="#376092" stroke="#2A5590" stroke-width="1"/><rect x="1545.54" y="1020.90" width="29.20" height="97.20" rx="4" ry="4" fill="#fff" fill-opacity="0.45"/><rect x="1547.54" y="1022.90" width="25.20" height="94.70" rx="2.6" ry="2.6" fill="#FF0000" stroke="#F00000" stroke-width="1"/><rect x="1586.82" y="939.60" width="29.20" height="178.50" rx="4" ry="4" fill="#fff" fill-opacity="0.45"/><rect x="1588.82" y="941.60" width="25.20" height="176.00" rx="2.6" ry="2.6" fill="#376092" stroke="#2A5590" stroke-width="1"/><rect x="1628.10" y="1093.00" width="29.20" height="25.10" rx="4" ry="4" fill="#fff" fill-opacity="0.45"/><rect x="1630.10" y="1095.00" width="25.20" height="22.60" rx="2.6" ry="2.6" fill="#FF0000" stroke="#F00000" stroke-width="1"/><rect x="1669.37" y="1090.50" width="29.20" height="27.60" rx="4" ry="4" fill="#fff" fill-opacity="0.45"/><rect x="1671.37" y="1092.50" width="25.20" height="25.10" rx="2.6" ry="2.6" fill="#376092" stroke="#2A5590" stroke-width="1"/><rect x="1710.65" y="963.60" width="29.20" height="154.50" rx="4" ry="4" fill="#fff" fill-opacity="0.45"/><rect x="1712.65" y="965.60" width="25.20" height="152.00" rx="2.6" ry="2.6" fill="#FF0000" stroke="#F00000" stroke-width="1"/><path d="M1249.80,808.90V1122.90M1241.80,1114.90H1746.20M1241.80,1114.90H1249.80M1241.80,1053.70H1249.80M1241.80,992.50H1249.80M1241.80,931.30H1249.80M1241.80,870.10H1249.80M1241.80,808.90H1249.80M1249.80,1114.90V1122.90M1291.17,1114.90V1122.90M1332.53,1114.90V1122.90M1373.90,1114.90V1122.90M1415.27,1114.90V1122.90M1456.63,1114.90V1122.90M1498.00,1114.90V1122.90M1539.37,1114.90V1122.90M1580.73,1114.90V1122.90M1622.10,1114.90V1122.90M1663.47,1114.90V1122.90M1704.83,1114.90V1122.90M1746.20,1114.90V1122.90" stroke="#868686" stroke-width="1.3" fill="none"/><text x="1213.65" y="1123.15" class="t">0</text><text x="1213.90" y="1061.83" class="t">5</text><text x="1200.40" y="1000.75" class="t">10</text><text x="1200.65" y="939.42" class="t">15</text><text x="1200.40" y="878.35" class="t">20</text><text x="1200.65" y="817.15" class="t">25</text><text x="1263.20" y="1154.20" class="x">S</text><text x="1307.98" y="1154.20" class="x">r</text><text x="1344.75" y="1154.20" class="x">R</text><text x="1388.66" y="1154.20" class="x">g</text><text x="1427.31" y="1154.20" class="x">G</text><text x="1467.71" y="1154.20" class="x">M</text><text x="1508.99" y="1154.20" class="x">m</text><text x="1551.89" y="1154.20" class="x">P</text><text x="1595.04" y="1154.20" class="x">d</text><text x="1633.70" y="1154.20" class="x">D</text><text x="1677.35" y="1154.20" class="x">n</text><text x="1716.62" y="1154.20" class="x">N</text><text x="1389.20" y="817.30" class="ti" letter-spacing="0.500" word-spacing="-2.0">Miyan ki todi (Todi)</text></g>
<g><rect x="119.60" y="1192.70" width="493.10" height="312.80" fill="#DCE6F2"/><rect x="125.70" y="1228.80" width="28.90" height="278.80" rx="4" ry="4" fill="#fff" fill-opacity="0.45"/><rect x="127.70" y="1230.80" width="24.90" height="276.30" rx="2.6" ry="2.6" fill="#595959" stroke="#474747" stroke-width="1"/><rect x="166.70" y="1336.20" width="28.90" height="171.40" rx="4" ry="4" fill="#fff" fill-opacity="0.45"/><rect x="168.70" y="1338.20" width="24.90" height="168.90" rx="2.6" ry="2.6" fill="#376092" stroke="#2A5590" stroke-width="1"/><rect x="207.71" y="1473.50" width="28.90" height="34.10" rx="4" ry="4" fill="#fff" fill-opacity="0.45"/><rect x="209.71" y="1475.50" width="24.90" height="31.60" rx="2.6" ry="2.6" fill="#FF0000" stroke="#F00000" stroke-width="1"/><rect x="248.71" y="1473.80" width="28.90" height="33.80" rx="4" ry="4" fill="#fff" fill-opacity="0.45"/><rect x="250.71" y="1475.80" width="24.90" height="31.30" rx="2.6" ry="2.6" fill="#376092" stroke="#2A5590" stroke-width="1"/><rect x="289.72" y="1381.70" width="28.90" height="125.90" rx="4" ry="4" fill="#fff" fill-opacity="0.45"/><rect x="291.72" y="1383.70" width="24.90" height="123.40" rx="2.6" ry="2.6" fill="#FF0000" stroke="#F00000" stroke-width="1"/><rect x="330.72" y="1485.30" width="28.90" height="22.30" rx="4" ry="4" fill="#fff" fill-opacity="0.45"/><rect x="332.72" y="1487.30" width="24.90" height="19.80" rx="2.6" ry="2.6" fill="#FF0000" stroke="#F00000" stroke-width="1"/><rect x="371.73" y="1266.90" width="28.90" height="240.70" rx="4" ry="4" fill="#fff" fill-opacity="0.45"/><rect x="373.73" y="1268.90" width="24.90" height="238.20" rx="2.6" ry="2.6" fill="#376092" stroke="#2A5590" stroke-width="1"/><rect x="412.73" y="1373.60" width="28.90" height="134.00" rx="4" ry="4" fill="#fff" fill-opacity="0.45"/><rect x="414.73" y="1375.60" width="24.90" height="131.50" rx="2.6" ry="2.6" fill="#FF0000" stroke="#F00000" stroke-width="1"/><rect x="453.74" y="1435.90" width="28.90" height="71.70" rx="4" ry="4" fill="#fff" fill-opacity="0.45"/><rect x="455.74" y="1437.90" width="24.90" height="69.20" rx="2.6" ry="2.6" fill="#376092" stroke="#2A5590" stroke-width="1"/><rect x="494.74" y="1483.90" width="28.90" height="23.70" rx="4" ry="4" fill="#fff" fill-opacity="0.45"/><rect x="496.74" y="1485.90" width="24.90" height="21.20" rx="2.6" ry="2.6" fill="#FF0000" stroke="#F00000" stroke-width="1"/><rect x="535.75" y="1485.90" width="28.90" height="21.70" rx="4" ry="4" fill="#fff" fill-opacity="0.45"/><rect x="537.75" y="1487.90" width="24.90" height="19.20" rx="2.6" ry="2.6" fill="#376092" stroke="#2A5590" stroke-width="1"/><rect x="576.75" y="1336.20" width="28.90" height="171.40" rx="4" ry="4" fill="#fff" fill-opacity="0.45"/><rect x="578.75" y="1338.20" width="24.90" height="168.90" rx="2.6" ry="2.6" fill="#FF0000" stroke="#F00000" stroke-width="1"/><path d="M119.60,1191.90V1513.50M111.60,1505.50H611.20M111.60,1505.50H119.60M111.60,1442.78H119.60M111.60,1380.06H119.60M111.60,1317.34H119.60M111.60,1254.62H119.60M111.60,1191.90H119.60M119.60,1505.50V1513.50M160.57,1505.50V1513.50M201.53,1505.50V1513.50M242.50,1505.50V1513.50M283.47,1505.50V1513.50M324.43,1505.50V1513.50M365.40,1505.50V1513.50M406.37,1505.50V1513.50M447.33,1505.50V1513.50M488.30,1505.50V1513.50M529.27,1505.50V1513.50M570.23,1505.50V1513.50M611.20,1505.50V1513.50" stroke="#868686" stroke-width="1.3" fill="none"/><text x="83.45" y="1513.75" class="t">0</text><text x="83.70" y="1450.90" class="t">5</text><text x="70.20" y="1388.31" class="t">10</text><text x="70.45" y="1325.47" class="t">15</text><text x="70.20" y="1262.87" class="t">20</text><text x="70.45" y="1200.15" class="t">25</text><text x="132.15" y="1543.50" class="x">S</text><text x="176.65" y="1543.50" class="x">r</text><text x="213.16" y="1543.50" class="x">R</text><text x="256.79" y="1543.50" class="x">g</text><text x="295.17" y="1543.50" class="x">G</text><text x="335.30" y="1543.50" class="x">M</text><text x="376.30" y="1543.50" class="x">m</text><text x="418.93" y="1543.50" class="x">P</text><text x="461.81" y="1543.50" class="x">d</text><text x="500.19" y="1543.50" class="x">D</text><text x="543.57" y="1543.50" class="x">n</text><text x="582.58" y="1543.50" class="x">N</text><text x="274.20" y="1210.50" class="ti" letter-spacing="0.312" word-spacing="-2.0">Shree (Purvi)</text><text transform="translate(25.15,1351.25) rotate(-90)" text-anchor="middle" class="yt">Mean Frequency of</text><text transform="translate(53.35,1349.60) rotate(-90)" text-anchor="middle" class="yt">occurence (%)</text></g>
<g><rect x="681.10" y="1198.60" width="484.10" height="310.00" fill="#DCE6F2"/><rect x="686.62" y="1253.70" width="28.05" height="257.10" rx="4" ry="4" fill="#fff" fill-opacity="0.45"/><rect x="688.62" y="1255.70" width="24.05" height="254.60" rx="2.6" ry="2.6" fill="#595959" stroke="#474747" stroke-width="1"/><rect x="726.82" y="1387.50" width="28.05" height="123.30" rx="4" ry="4" fill="#fff" fill-opacity="0.45"/><rect x="728.82" y="1389.50" width="24.05" height="120.80" rx="2.6" ry="2.6" fill="#376092" stroke="#2A5590" stroke-width="1"/><rect x="767.01" y="1493.10" width="28.05" height="17.70" rx="4" ry="4" fill="#fff" fill-opacity="0.45"/><rect x="769.01" y="1495.10" width="24.05" height="15.20" rx="2.6" ry="2.6" fill="#FF0000" stroke="#F00000" stroke-width="1"/><rect x="807.20" y="1488.70" width="28.05" height="22.10" rx="4" ry="4" fill="#fff" fill-opacity="0.45"/><rect x="809.20" y="1490.70" width="24.05" height="19.60" rx="2.6" ry="2.6" fill="#376092" stroke="#2A5590" stroke-width="1"/><rect x="847.39" y="1307.60" width="28.05" height="203.20" rx="4" ry="4" fill="#fff" fill-opacity="0.45"/><rect x="849.39" y="1309.60" width="24.05" height="200.70" rx="2.6" ry="2.6" fill="#FF0000" stroke="#F00000" stroke-width="1"/><rect x="887.58" y="1268.60" width="28.05" height="242.20" rx="4" ry="4" fill="#fff" fill-opacity="0.45"/><rect x="889.58" y="1270.60" width="24.05" height="239.70" rx="2.6" ry="2.6" fill="#FF0000" stroke="#F00000" stroke-width="1"/><rect x="927.77" y="1400.00" width="28.05" height="110.80" rx="4" ry="4" fill="#fff" fill-opacity="0.45"/><rect x="929.77" y="1402.00" width="24.05" height="108.30" rx="2.6" ry="2.6" fill="#376092" stroke="#2A5590" stroke-width="1"/><rect x="967.96" y="1475.20" width="28.05" height="35.60" rx="4" ry="4" fill="#fff" fill-opacity="0.45"/><rect x="969.96" y="1477.20" width="24.05" height="33.10" rx="2.6" ry="2.6" fill="#FF0000" stroke="#F00000" stroke-width="1"/><rect x="1008.15" y="1409.20" width="28.05" height="101.60" rx="4" ry="4" fill="#fff" fill-opacity="0.45"/><rect x="1010.15" y="1411.20" width="24.05" height="99.10" rx="2.6" ry="2.6" fill="#376092" stroke="#2A5590" stroke-width="1"/><rect x="1048.34" y="1491.50" width="28.05" height="19.30" rx="4" ry="4" fill="#fff" fill-opacity="0.45"/><rect x="1050.34" y="1493.50" width="24.05" height="16.80" rx="2.6" ry="2.6" fill="#FF0000" stroke="#F00000" stroke-width="1"/><rect x="1088.53" y="1492.00" width="28.05" height="18.80" rx="4" ry="4" fill="#fff" fill-opacity="0.45"/><rect x="1090.53" y="1494.00" width="24.05" height="16.30" rx="2.6" ry="2.6" fill="#376092" stroke="#2A5590" stroke-width="1"/><rect x="1128.72" y="1340.80" width="28.05" height="170.00" rx="4" ry="4" fill="#fff" fill-opacity="0.45"/><rect x="1130.72" y="1342.80" width="24.05" height="167.50" rx="2.6" ry="2.6" fill="#FF0000" stroke="#F00000" stroke-width="1"/><path d="M681.10,1197.80V1516.60M673.10,1508.60H1163.70M673.10,1508.60H681.10M673.10,1446.44H681.10M673.10,1384.28H681.10M673.10,1322.12H681.10M673.10,1259.96H681.10M673.10,1197.80H681.10M681.10,1508.60V1516.60M721.32,1508.60V1516.60M761.53,1508.60V1516.60M801.75,1508.60V1516.60M841.97,1508.60V1516.60M882.18,1508.60V1516.60M922.40,1508.60V1516.60M962.62,1508.60V1516.60M1002.83,1508.60V1516.60M1043.05,1508.60V1516.60M1083.27,1508.60V1516.60M1123.48,1508.60V1516.60M1163.70,1508.60V1516.60" stroke="#868686" stroke-width="1.3" fill="none"/><text x="644.95" y="1516.85" class="t">0</text><text x="645.20" y="1454.56" class="t">5</text><text x="631.70" y="1392.53" class="t">10</text><text x="631.95" y="1330.24" class="t">15</text><text x="631.70" y="1268.21" class="t">20</text><text x="631.95" y="1206.05" class="t">25</text><text x="692.65" y="1546.60" class="x">S</text><text x="736.34" y="1546.60" class="x">r</text><text x="772.03" y="1546.60" class="x">R</text><text x="814.85" y="1546.60" class="x">g</text><text x="852.41" y="1546.60" class="x">G</text><text x="891.73" y="1546.60" class="x">M</text><text x="931.92" y="1546.60" class="x">m</text><text x="973.74" y="1546.60" class="x">P</text><text x="1015.80" y="1546.60" class="x">d</text><text x="1053.37" y="1546.60" class="x">D</text><text x="1095.93" y="1546.60" class="x">n</text><text x="1134.12" y="1546.60" class="x">N</text><text x="859.50" y="1209.00" class="ti" letter-spacing="0.204" word-spacing="-2.0">Lalit (Marwa)</text></g>
<g><rect x="1254.20" y="1197.50" width="510.60" height="312.75" fill="#DCE6F2"/><rect x="1259.80" y="1225.00" width="29.60" height="287.45" rx="4" ry="4" fill="#fff" fill-opacity="0.45"/><rect x="1261.80" y="1227.00" width="25.60" height="284.95" rx="2.6" ry="2.6" fill="#595959" stroke="#474747" stroke-width="1"/><rect x="1302.33" y="1334.70" width="29.60" height="177.75" rx="4" ry="4" fill="#fff" fill-opacity="0.45"/><rect x="1304.33" y="1336.70" width="25.60" height="175.25" rx="2.6" ry="2.6" fill="#376092" stroke="#2A5590" stroke-width="1"/><rect x="1344.86" y="1491.50" width="29.60" height="20.95" rx="4" ry="4" fill="#fff" fill-opacity="0.45"/><rect x="1346.86" y="1493.50" width="25.60" height="18.45" rx="2.6" ry="2.6" fill="#FF0000" stroke="#F00000" stroke-width="1"/><rect x="1387.40" y="1488.70" width="29.60" height="23.75" rx="4" ry="4" fill="#fff" fill-opacity="0.45"/><rect x="1389.40" y="1490.70" width="25.60" height="21.25" rx="2.6" ry="2.6" fill="#376092" stroke="#2A5590" stroke-width="1"/><rect x="1429.93" y="1428.10" width="29.60" height="84.35" rx="4" ry="4" fill="#fff" fill-opacity="0.45"/><rect x="1431.93" y="1430.10" width="25.60" height="81.85" rx="2.6" ry="2.6" fill="#FF0000" stroke="#F00000" stroke-width="1"/><rect x="1472.46" y="1489.80" width="29.60" height="22.65" rx="4" ry="4" fill="#fff" fill-opacity="0.45"/><rect x="1474.46" y="1491.80" width="25.60" height="20.15" rx="2.6" ry="2.6" fill="#FF0000" stroke="#F00000" stroke-width="1"/><rect x="1514.99" y="1437.30" width="29.60" height="75.15" rx="4" ry="4" fill="#fff" fill-opacity="0.45"/><rect x="1516.99" y="1439.30" width="25.60" height="72.65" rx="2.6" ry="2.6" fill="#376092" stroke="#2A5590" stroke-width="1"/><rect x="1557.52" y="1488.70" width="29.60" height="23.75" rx="4" ry="4" fill="#fff" fill-opacity="0.45"/><rect x="1559.52" y="1490.70" width="25.60" height="21.25" rx="2.6" ry="2.6" fill="#FF0000" stroke="#F00000" stroke-width="1"/><rect x="1600.05" y="1489.80" width="29.60" height="22.65" rx="4" ry="4" fill="#fff" fill-opacity="0.45"/><rect x="1602.05" y="1491.80" width="25.60" height="20.15" rx="2.6" ry="2.6" fill="#376092" stroke="#2A5590" stroke-width="1"/><rect x="1642.59" y="1345.20" width="29.60" height="167.25" rx="4" ry="4" fill="#fff" fill-opacity="0.45"/><rect x="1644.59" y="1347.20" width="25.60" height="164.75" rx="2.6" ry="2.6" fill="#FF0000" stroke="#F00000" stroke-width="1"/><rect x="1685.12" y="1479.80" width="29.60" height="32.65" rx="4" ry="4" fill="#fff" fill-opacity="0.45"/><rect x="1687.12" y="1481.80" width="25.60" height="30.15" rx="2.6" ry="2.6" fill="#376092" stroke="#2A5590" stroke-width="1"/><rect x="1727.65" y="1329.90" width="29.60" height="182.55" rx="4" ry="4" fill="#fff" fill-opacity="0.45"/><rect x="1729.65" y="1331.90" width="25.60" height="180.05" rx="2.6" ry="2.6" fill="#FF0000" stroke="#F00000" stroke-width="1"/><path d="M1254.20,1197.80V1518.25M1246.20,1510.25H1762.70M1246.20,1510.25H1254.20M1246.20,1458.17H1254.20M1246.20,1406.10H1254.20M1246.20,1354.03H1254.20M1246.20,1301.95H1254.20M1246.20,1249.88H1254.20M1246.20,1197.80H1254.20M1254.20,1510.25V1518.25M1296.58,1510.25V1518.25M1338.95,1510.25V1518.25M1381.33,1510.25V1518.25M1423.70,1510.25V1518.25M1466.08,1510.25V1518.25M1508.45,1510.25V1518.25M1550.83,1510.25V1518.25M1593.20,1510.25V1518.25M1635.58,1510.25V1518.25M1677.95,1510.25V1518.25M1720.33,1510.25V1518.25M1762.70,1510.25V1518.25" stroke="#868686" stroke-width="1.3" fill="none"/><text x="1216.85" y="1518.50" class="t">0</text><text x="1217.10" y="1466.30" class="t">5</text><text x="1203.60" y="1414.35" class="t">10</text><text x="1203.85" y="1362.15" class="t">15</text><text x="1203.60" y="1310.20" class="t">20</text><text x="1203.85" y="1258.12" class="t">25</text><text x="1203.60" y="1206.05" class="t">30</text><text x="1266.60" y="1548.20" class="x">S</text><text x="1312.63" y="1548.20" class="x">r</text><text x="1350.66" y="1548.20" class="x">R</text><text x="1395.82" y="1548.20" class="x">g</text><text x="1435.73" y="1548.20" class="x">G</text><text x="1477.38" y="1548.20" class="x">M</text><text x="1519.92" y="1548.20" class="x">m</text><text x="1564.07" y="1548.20" class="x">P</text><text x="1608.48" y="1548.20" class="x">d</text><text x="1648.39" y="1548.20" class="x">D</text><text x="1693.29" y="1548.20" class="x">n</text><text x="1733.83" y="1548.20" class="x">N</text><text x="1439.00" y="1205.00" class="ti" letter-spacing="0.233" word-spacing="-2.0">Marwa (Marwa)</text></g>
</svg>
</body></html>
